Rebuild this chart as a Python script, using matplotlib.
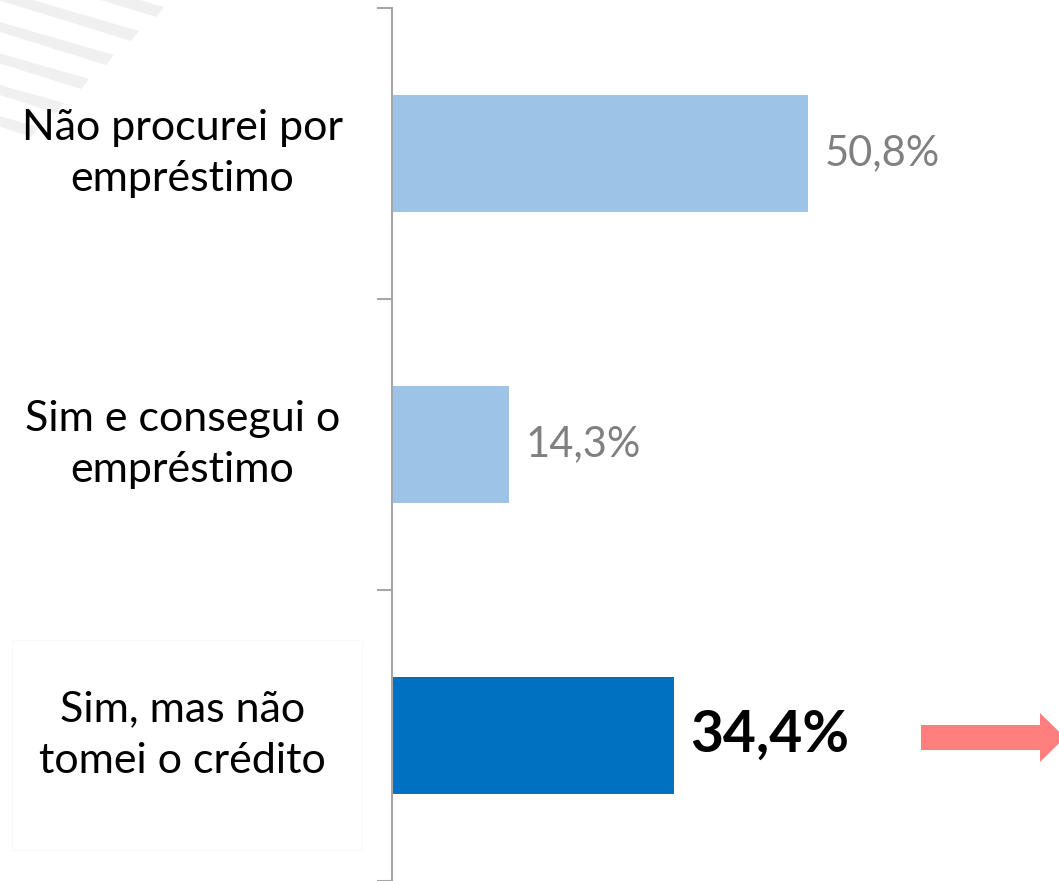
import matplotlib

matplotlib.use("Agg")
import matplotlib.pyplot as plt
from matplotlib.patches import FancyArrow, Polygon, Rectangle

categories = ["Não procurei por\nempréstimo", "Sim e consegui o\nempréstimo", "Sim, mas não\ntomei o crédito"]
values = [50.8, 14.3, 34.4]
value_labels = ["50,8%", "14,3%", "34,4%"]
bar_colors = ["#9DC3E6", "#9DC3E6", "#0070C0"]
highlight = 2

plt.rcParams["font.family"] = ["Lato", "DejaVu Sans"]

W, H = 1059, 881
fig = plt.figure(figsize=(W / 100, H / 100), dpi=100)
fig.patch.set_facecolor("white")

# background layer in pixel coordinates (decoration only)
bg = fig.add_axes([0, 0, 1, 1], zorder=-1)
bg.set_xlim(0, W)
bg.set_ylim(H, 0)
bg.axis("off")
slope, thick = 0.3, 10
for i in range(6):
    xe, ye = 160 - 25 * i, 12 + 24 * i
    y0 = ye - slope * xe
    bg.add_patch(Polygon([(0, y0 - thick / 2), (xe + 4, ye - thick / 2),
                          (xe - 4, ye + thick / 2), (0, y0 + thick / 2)],
                         closed=True, facecolor="#F0F0F0", edgecolor="none"))
# white box behind the highlighted label
bg.add_patch(Rectangle((12, 640), 350, 210, facecolor="white",
                       edgecolor="#F9F9F9", lw=0.8))
# arrow pointing right from the highlighted value
bg.add_patch(FancyArrow(921, 737.5, 144, 0, width=25, head_width=49,
                        head_length=25, length_includes_head=True,
                        color="#FF7F7F", lw=0))

ax = fig.add_axes([392 / W, 0, (80 * 8.19) / W, (H - 8) / H])
ax.set_facecolor("none")
ypos = list(range(len(categories)))
ax.barh(ypos, values, height=0.4, color=bar_colors, zorder=2)
ax.set_xlim(0, 80)
ax.set_ylim(len(categories) - 0.5, -0.5)

for sp in ["top", "right", "bottom"]:
    ax.spines[sp].set_visible(False)
ax.spines["left"].set_color("#A6A6A6")
ax.spines["left"].set_linewidth(1.5)
ax.set_xticks([])
ax.set_yticks([y - 0.5 for y in ypos] + [len(categories) - 0.5])
ax.set_yticklabels([])
ax.tick_params(axis="y", length=11, width=1.5, color="#A6A6A6")

for y, cat in zip(ypos, categories):
    ax.text(-25.6, y, cat, ha="center", va="center", fontsize=31,
            color="black", linespacing=1.45)

for y, v, lab in zip(ypos, values, value_labels):
    if y == highlight:
        ax.text(v + 2.0, y, lab, ha="left", va="center", fontsize=41,
                fontweight="bold", color="black")
    else:
        ax.text(v + 2.0, y, lab, ha="left", va="center", fontsize=30,
                color="#808080")

fig.savefig("out.png", dpi=100, facecolor="white")
